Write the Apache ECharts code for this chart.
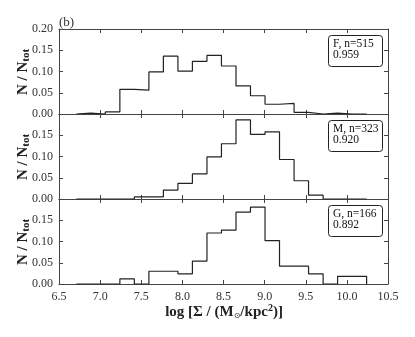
<!DOCTYPE html>
<html>
<head>
<meta charset="utf-8">
<script src="https://cdn.jsdelivr.net/npm/echarts@6/dist/echarts.min.js"></script>
<style>
  html, body { margin: 0; padding: 0; background: #fff; }
  #chart { width: 415px; height: 337px; }
</style>
</head>
<body>
<div id="chart"></div>
<script>
// histogram bin edges (20 bins)
const binEdges = [6.710, 6.887, 7.063, 7.240, 7.416, 7.593, 7.769, 7.946, 8.122, 8.299,
  8.475, 8.652, 8.828, 9.005, 9.181, 9.358, 9.534, 9.711, 9.887, 10.064, 10.240];

const fracF = [0.002, 0, 0.005, 0.058, 0.056, 0.099, 0.136, 0.101, 0.124, 0.138,
  0.113, 0.066, 0.043, 0.023, 0.025, 0.004, 0, 0.002, 0, 0];
const fracM = [0, 0, 0, 0, 0.005, 0.005, 0.021, 0.037, 0.059, 0.099,
  0.130, 0.186, 0.152, 0.158, 0.093, 0.043, 0.009, 0, 0, 0];
const fracG = [0, 0, 0, 0.012, 0, 0.030, 0.030, 0.024, 0.054, 0.120,
  0.127, 0.169, 0.181, 0.102, 0.042, 0.042, 0.024, 0, 0.018, 0.018];

const panelNames = ["F, n=515", "M, n=323", "G, n=166"];
const panelScores = ["0.959", "0.920", "0.892"];

const serif = "Liberation Serif";
const ink = "#222";
const frame = "#444";

// turn bin fractions into an outline (step histogram)
function outline(vals) {
  const pts = [[binEdges[0], 0]];
  for (let i = 0; i < vals.length; i++) pts.push([binEdges[i], vals[i]]);
  pts.push([binEdges[binEdges.length - 1], 0]);
  return pts;
}

const tops = [29, 114, 199];
const grids = [], xAxes = [], yAxes = [], series = [], graphics = [];
const allData = [fracF, fracM, fracG];

tops.forEach(function (top, i) {
  grids.push({left: 59, right: 27, top: top, height: 85});
  const last = i === tops.length - 1;
  const common = {
    type: "value", gridIndex: i, min: 6.5, max: 10.5, interval: 0.5,
    axisLine: {show: true, onZero: false, lineStyle: {color: frame, width: 1}},
    axisTick: {show: true, inside: true, length: 4, lineStyle: {color: frame}},
    splitLine: {show: false}
  };
  xAxes.push(Object.assign({}, common, {
    position: "bottom",
    axisLabel: {
      show: last, fontFamily: serif, fontSize: 12, color: "#333", margin: 7,
      formatter: function (v) { return v.toFixed(1); }
    }
  }));
  xAxes.push(Object.assign({}, common, {position: "top", axisLabel: {show: false}}));

  const ycommon = {
    type: "value", gridIndex: i, min: 0, max: 0.2, interval: 0.05,
    axisLine: {show: true, onZero: false, lineStyle: {color: frame, width: 1}},
    axisTick: {show: true, inside: true, length: 4, lineStyle: {color: frame}},
    splitLine: {show: false}
  };
  yAxes.push(Object.assign({}, ycommon, {
    position: "left",
    axisLabel: {
      fontFamily: serif, fontSize: 12, color: "#333", margin: 6,
      formatter: function (v) {
        if (i > 0 && v > 0.19) return "";
        return v.toFixed(2);
      }
    }
  }));
  yAxes.push(Object.assign({}, ycommon, {position: "right", axisLabel: {show: false}}));

  series.push({
    type: "line", xAxisIndex: 2 * i, yAxisIndex: 2 * i,
    data: outline(allData[i]), step: "end", symbol: "none",
    lineStyle: {color: ink, width: 1.2}, silent: true
  });

  // y-axis title
  graphics.push({
    type: "text", x: 23, y: top + 43, rotation: Math.PI / 2,
    style: {
      text: "{a|N / N}{b|tot}",
      align: "center", verticalAlign: "middle",
      rich: {
        a: {fontFamily: serif, fontWeight: "bold", fontSize: 15, fill: ink},
        b: {fontFamily: serif, fontWeight: "bold", fontSize: 11, fill: ink, padding: [6, 0, 0, 0]}
      }
    }
  });

  // label box
  graphics.push({
    type: "rect", shape: {x: 328.5, y: top + 6.5, width: 54, height: 31, r: 3},
    style: {fill: "#fff", stroke: ink, lineWidth: 1}
  });
  graphics.push({
    type: "text", x: 333, y: top + 9,
    style: {
      text: panelNames[i] + "\n" + panelScores[i],
      fontFamily: serif, fontSize: 11.5, lineHeight: 11, fill: "#111"
    }
  });
});

graphics.push({
  type: "text", x: 59, y: 23,
  style: {text: "(b)", fontFamily: serif, fontSize: 13, fill: "#333", verticalAlign: "middle"}
});
graphics.push({
  type: "text", x: 224, y: 312,
  style: {
    text: "{a|log [Σ / (M}{s|⊙}{a|/kpc}{p|2}{a|)]}",
    align: "center", verticalAlign: "middle",
    rich: {
      a: {fontFamily: serif, fontWeight: "bold", fontSize: 15, fill: ink},
      s: {fontFamily: "DejaVu Sans", fontSize: 8, fill: ink, padding: [7, 0, 0, 0]},
      p: {fontFamily: serif, fontWeight: "bold", fontSize: 10, fill: ink, padding: [0, 0, 7, 0]}
    }
  }
});

const chart = echarts.init(document.getElementById("chart"), null, {renderer: "canvas"});
chart.setOption({
  animation: false,
  backgroundColor: "#fff",
  grid: grids,
  xAxis: xAxes,
  yAxis: yAxes,
  series: series,
  graphic: graphics
});
</script>
</body>
</html>
